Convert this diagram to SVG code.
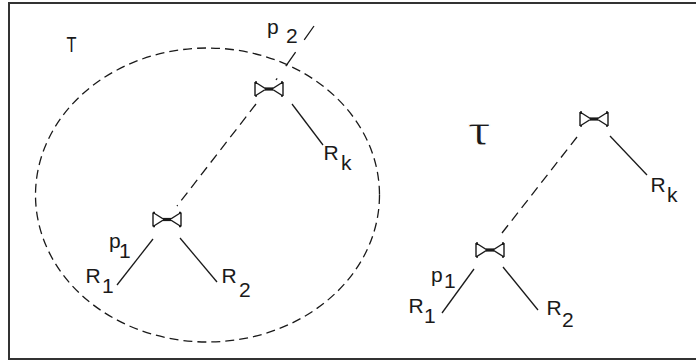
<svg xmlns="http://www.w3.org/2000/svg" width="696" height="361" viewBox="0 0 696 361">
<style>
.lbl{font-family:"Liberation Sans",Arial,sans-serif;font-size:21px;fill:#1a1a1a}
.solid{stroke:#1a1a1a;stroke-width:1.3;fill:none}
.dash{stroke:#1a1a1a;stroke-width:1.3;fill:none;stroke-dasharray:10 6}
.bt{stroke:#1a1a1a;stroke-width:1.4;fill:none}
</style>
<defs>
<g id="bowtie">
<path class="bt" d="M-14,-7 V7 M-14,-7 H-12 M-14,7 H-12 M-14,-7 L-3,0 L-14,7 M14,-7 V7 M14,-7 H12 M14,7 H12 M14,-7 L3,0 L14,7"/>
<rect x="-4" y="-1.6" width="8" height="3.2" fill="#1a1a1a"/>
</g>
</defs>
<rect width="696" height="361" fill="#fff"/>
<rect x="9" y="3" width="700" height="356" fill="none" stroke="#333" stroke-width="2"/>
<g id="connectors">
<ellipse cx="207.5" cy="195" rx="172" ry="147" class="dash" style="stroke-dasharray:9 5"/>
<line x1="314" y1="26" x2="276" y2="80" class="dash" style="stroke-dasharray:17 15"/>
<line x1="256" y1="104" x2="177" y2="206" class="dash"/>
<line x1="292" y1="104" x2="323" y2="145" class="solid"/>
<line x1="153" y1="239" x2="117" y2="285" class="solid"/>
<line x1="180" y1="238" x2="217" y2="282" class="solid"/>
<line x1="577" y1="137" x2="502" y2="233" class="dash"/>
<line x1="610" y1="136" x2="647" y2="175" class="solid"/>
<line x1="474" y1="269" x2="442" y2="313" class="solid"/>
<line x1="503" y1="267" x2="538" y2="310" class="solid"/>
</g>
<g id="label-T"><text class="lbl" x="66.5" y="52" style="font-size:22px" textLength="10" lengthAdjust="spacingAndGlyphs">T</text></g>
<g id="label-tau"><text class="lbl" x="468" y="145" style="font-size:39px;stroke:#fff;stroke-width:0.9" textLength="22" lengthAdjust="spacingAndGlyphs">τ</text></g>
<g id="join-left-top"><use href="#bowtie" x="269" y="89"/></g>
<g id="join-left-low"><use href="#bowtie" x="167" y="219.5"/></g>
<g id="join-right-top"><use href="#bowtie" x="594" y="119"/></g>
<g id="join-right-low"><use href="#bowtie" x="490" y="250"/></g>
<g id="label-p2"><text class="lbl" x="267" y="34">p<tspan x="286" y="43">2</tspan></text></g>
<g id="label-Rk-left"><text class="lbl" x="323.5" y="160">R<tspan x="341" y="170">k</tspan></text></g>
<g id="label-p1-left"><text class="lbl" x="109" y="248">p<tspan x="119" y="258">1</tspan></text></g>
<g id="label-R1-left"><text class="lbl" x="85.5" y="283">R<tspan x="102" y="293">1</tspan></text></g>
<g id="label-R2-left"><text class="lbl" x="221.5" y="283">R<tspan x="239" y="297">2</tspan></text></g>
<g id="label-Rk-right"><text class="lbl" x="650.5" y="192">R<tspan x="667" y="202">k</tspan></text></g>
<g id="label-p1-right"><text class="lbl" x="431" y="282">p<tspan x="444" y="288">1</tspan></text></g>
<g id="label-R1-right"><text class="lbl" x="408.5" y="313">R<tspan x="424" y="323">1</tspan></text></g>
<g id="label-R2-right"><text class="lbl" x="546.5" y="315">R<tspan x="562" y="327">2</tspan></text></g>
</svg>
